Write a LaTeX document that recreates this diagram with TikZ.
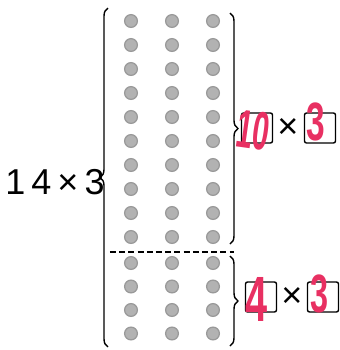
\documentclass[tikz,border=0pt]{standalone}
\usepackage{fontspec}
\setmainfont{Liberation Sans}
\usetikzlibrary{decorations.pathreplacing}
\definecolor{pen}{RGB}{232,48,98}
\tikzset{
  dot/.style={circle,inner sep=0pt,minimum size=6.4pt,fill=gray!60,draw=gray!80,line width=0.6pt},
  answerbox/.style={draw,rounded corners=1pt,line width=0.7pt,minimum width=15.5pt,minimum height=15pt,inner sep=0pt},
  brc/.style={decorate,decoration={brace,amplitude=4pt},line width=0.7pt},
  ink/.style={text=pen,inner sep=0pt,font=\fontsize{27}{27}\selectfont\bfseries},
  sign/.style={font=\fontsize{18}{18}\selectfont}
}
\begin{document}
\begin{tikzpicture}[x=0.5pt,y=-0.5pt]
\useasboundingbox (0,0) rectangle (340,350);
% dots, ten rows on top and four below
\foreach \r in {0,...,9}
  \foreach \c/\x in {1/131,2/172,3/213}
    \node[dot] (d\r\c) at (\x,21+24*\r) {};
\foreach \r in {10,...,13}
  \foreach \c/\x in {1/131,2/172,3/213}
    \node[dot] (d\r\c) at (\x,263+23.5*\r-235) {};
\coordinate (cutL) at (110,252);
\coordinate (cutR) at (234,252);
\draw[line width=1pt,dash pattern=on 3pt off 1.6pt] (cutL) -- (cutR);
% braces
\draw[brc] (108,347) -- (108,8);
\draw[brc] (230,13) -- (230,244);
\draw[brc] (230,256) -- (230,346);
\node[sign] (whole) at (55,182) {1\,4\,×\,3};
% upper part
\node[answerbox] (tenA) at (257,128) {};
\node[sign] (timesA) at (288,128) {×};
\node[answerbox] (threeA) at (320,128) {};
\node[ink,rotate=-8] (tenInk) at (253,130) {\scalebox{0.55}[1]{10}};
\node[ink] (threeInkA) at (316,122) {\scalebox{0.62}[1]{3}};
% lower part
\node[answerbox] (fourB) at (261,297) {};
\node[sign] (timesB) at (292,297) {×};
\node[answerbox] (threeB) at (323,297) {};
\node[ink,font=\fontsize{32}{32}\selectfont\bfseries] (fourInk) at (257,299) {\scalebox{0.62}[1]{4}};
\node[ink] (threeInkB) at (320,294) {\scalebox{0.6}[1]{3}};
\end{tikzpicture}
\end{document}
